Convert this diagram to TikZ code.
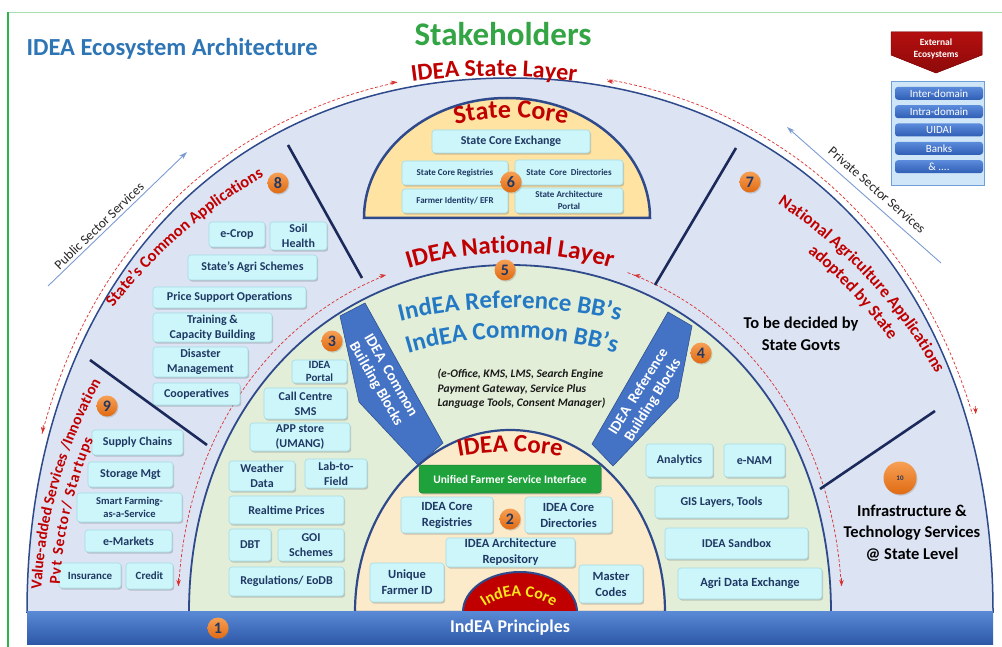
\documentclass[tikz,border=0pt]{standalone}
\usepackage{fontspec}
\setmainfont{Carlito}
\usetikzlibrary{decorations.text,shadows,arrows.meta}
\newcommand{\fsz}[2]{\fontsize{#1}{#2}\selectfont}
\definecolor{stfill}{HTML}{DCE3F3}
\definecolor{natfill}{HTML}{E3EED8}
\definecolor{corefill}{HTML}{FCEBCB}
\definecolor{scfill}{HTML}{FFE3A3}
\definecolor{edge}{HTML}{2E4A8B}
\definecolor{boxfill}{HTML}{CDF6FA}
\definecolor{boxdraw}{HTML}{A3DCE4}
\definecolor{navy}{HTML}{1F3864}
\definecolor{idred}{HTML}{C00000}
\definecolor{bandblue}{HTML}{4472C4}
\definecolor{banddark}{HTML}{2F528F}
\definecolor{orngtop}{HTML}{F7A055}
\definecolor{orngbot}{HTML}{E06A12}
\definecolor{titleblue}{HTML}{2E75B6}
\definecolor{stakegreen}{HTML}{34A544}
\definecolor{ufsigreen}{HTML}{1FA23C}
\definecolor{divider}{HTML}{1B2A5A}
\definecolor{arrowblue}{HTML}{7C9CD2}
\definecolor{bbblue}{HTML}{2479C5}
\definecolor{frame}{HTML}{2DB34A}
\definecolor{framelight}{HTML}{A8DDB0}
\definecolor{extred}{HTML}{B40F0F}
\definecolor{extreddark}{HTML}{8E0A0A}
\definecolor{extboxfill}{HTML}{CFE6F8}
\definecolor{extboxdraw}{HTML}{6E9FD6}
\definecolor{pilltop}{HTML}{5B8BDB}
\definecolor{pillbot}{HTML}{2F5EB5}
\definecolor{bartop}{HTML}{5A8AD6}
\definecolor{barbot}{HTML}{2D58A8}
\definecolor{coreyellow}{HTML}{FFE81A}
\definecolor{dashred}{HTML}{D93030}
\begin{document}
\begin{tikzpicture}[x=1pt,y=1pt,
  box/.style={draw=boxdraw, line width=0.6pt, fill=boxfill, rounded corners=3pt, align=center, inner sep=0pt, text=navy,
    drop shadow={shadow xshift=1.2pt, shadow yshift=-1.6pt, opacity=0.3, fill=black!60}},
  num/.style={circle, minimum size=21pt, inner sep=0pt, top color=orngtop, bottom color=orngbot, text=navy,
    font=\fsz{16}{16}\bfseries, drop shadow={shadow xshift=1pt, shadow yshift=-1.2pt, opacity=0.3}},
  pill/.style={rounded corners=3pt, top color=pilltop, bottom color=pillbot, minimum width=88pt, minimum height=13pt,
    inner sep=0pt, text=white, font=\fsz{11}{11}},
  divline/.style={divider, line width=2.6pt},
  dasharc/.style={dashred, line width=0.7pt, dash pattern=on 3pt off 2pt},
  dashtip/.style={dashred, line width=0.7pt, -{Stealth[length=6pt,width=4.5pt]}},
  sector/.style={arrowblue, line width=0.9pt, -{Stealth[length=8pt,width=5pt]}},
  band/.style={fill=bandblue, draw=banddark, line width=0.6pt},
  bandtext/.style={text=white, font=\fsz{15}{17}\bfseries, align=center},
  plain/.style={text=black, font=\fsz{16.5}{21.5}\bfseries, align=center}
]
\useasboundingbox (0,0) rectangle (1002,-647);
\fill[white] (0,0) rectangle (1002,-647);
\draw[framelight, line width=1pt] (8,-13) -- (1002,-13);
\draw[frame, line width=2.4pt] (8,-12.5) -- (8,-647);

% ---------- State layer ----------
\filldraw[fill=stfill, draw=edge, line width=1.5pt] (27,-612) .. controls (27,-291.6) and (220.2,-78) .. (510,-78)
   .. controls (799.8,-78) and (993,-291.6) .. (993,-612) -- cycle;

% outer dashed arcs
\begin{scope}
 \clip (0,-433) rectangle (397,0);
 \draw[dasharc] (20,-612) .. controls (20,-287.4) and (216,-71) .. (510,-71);
\end{scope}
\begin{scope}
 \clip (607,-413) rectangle (1002,0);
 \draw[dasharc] (510,-71) .. controls (804,-71) and (1000,-287.4) .. (1000,-612);
\end{scope}
\coordinate (oLa) at (390,-83); \coordinate (oLb) at (397,-82);
\coordinate (oLc) at (43.3,-425); \coordinate (oLd) at (42.6,-433);
\coordinate (oRa) at (614,-82); \coordinate (oRb) at (607,-81);
\coordinate (oRc) at (975.2,-406); \coordinate (oRd) at (975.8,-414);
\draw[dashtip] (oLa) -- (oLb);
\draw[dashtip] (oLc) -- (oLd);
\draw[dashtip] (oRa) -- (oRb);
\draw[dashtip] (oRc) -- (oRd);

% ---------- National layer ----------
\filldraw[fill=natfill, draw=edge, line width=1.8pt] (189,-612) .. controls (189,-410.7) and (323.8,-265) .. (510,-265)
   .. controls (696.2,-265) and (831,-410.7) .. (831,-612) -- cycle;
\begin{scope}
 \clip (0,-585) rectangle (385,0);
 \draw[dasharc] (178,-612) .. controls (178,-403.2) and (317.4,-252) .. (510,-252);
\end{scope}
\begin{scope}
 \clip (627,-585) rectangle (1002,0);
 \draw[dasharc] (510,-252) .. controls (702.6,-252) and (842,-403.2) .. (842,-612);
\end{scope}
\coordinate (iLa) at (379,-276.5); \coordinate (iLb) at (386,-275);
\coordinate (iLc) at (178.6,-578); \coordinate (iLd) at (178.4,-586);
\coordinate (iRa) at (641,-276.5); \coordinate (iRb) at (634,-275);
\coordinate (iRc) at (841.4,-578); \coordinate (iRd) at (841.6,-586);
\draw[dashtip] (iLa) -- (iLb);
\draw[dashtip] (iLc) -- (iLd);
\draw[dashtip] (iRa) -- (iRb);
\draw[dashtip] (iRc) -- (iRd);

% building block bands
\filldraw[band] (340,-316) -- (365,-303) -- (443,-443) -- (418,-465) -- (359,-402) -- cycle;
\filldraw[band] (668,-312) -- (692,-326) -- (678,-398) -- (613,-466) -- (592,-444) -- cycle;
\node[bandtext, rotate=-60] (bbl) at (383,-380) {IDEA\ \ Common\\Building Blocks};
\node[bandtext, rotate=58] (bbr) at (646,-396) {IDEA\ \ Reference\\Building Blocks};

% ---------- IDEA core ----------
\filldraw[fill=corefill, draw=edge, line width=2.2pt] (355,-612) arc[start angle=180, end angle=0, x radius=155, y radius=182] -- cycle;
\filldraw[fill=idred, draw=edge, line width=2pt] (463,-612) arc[start angle=180, end angle=0, x radius=57, y radius=40] -- cycle;

% ---------- State core ----------
\filldraw[fill=scfill, draw=edge, line width=2.5pt] (364,-218) arc[start angle=180, end angle=0, x radius=143, y radius=120] -- cycle;

% ---------- bottom bar ----------
\node[top color=bartop, bottom color=barbot, minimum width=966pt, minimum height=33pt, inner sep=0pt] (bar) at (510,-627.5) {};
\node[text=white, font=\fsz{18}{18}\bfseries] (barT) at (510,-628) {IndEA Principles};

% divider lines
\coordinate (d1a) at (288,-145); \coordinate (d1b) at (362,-278);
\coordinate (d2a) at (736,-148); \coordinate (d2b) at (655,-285);
\coordinate (d3a) at (90,-360); \coordinate (d3b) at (207,-445);
\coordinate (d4a) at (935,-411); \coordinate (d4b) at (820,-489);
\draw[divline] (d1a) -- (d1b);
\draw[divline] (d2a) -- (d2b);
\draw[divline] (d3a) -- (d3b);
\draw[divline] (d4a) -- (d4b);

% sector arrows
\coordinate (pubS) at (48,-286); \coordinate (pubE) at (187,-152);
\coordinate (priS) at (941,-263); \coordinate (priE) at (787,-127);
\draw[sector] (pubS) -- (pubE);
\draw[sector] (priS) -- (priE);
\node[rotate=44, font=\fsz{13.5}{14}, text=black!85] (pubT) at (99,-226) {Public Sector Services};
\node[rotate=-41, font=\fsz{13.5}{14}, text=black!85] (priT) at (877,-190) {Private Sector Services};

% ---------- titles ----------
\node[anchor=base west, text=titleblue, font=\fsz{24.5}{25}\bfseries] (title) at (23,-56) {IDEA Ecosystem Architecture};
\node[anchor=base, text=stakegreen, font=\fsz{33}{33}\bfseries] (stake) at (503,-46) {Stakeholders};

% arched headings
\path[decorate, decoration={text along path, text align=center,
  text={|\fsz{24}{24}\bfseries\color{idred}|IDEA State Layer}}, shift={(494,-676)}]
  (102:600) arc[start angle=102, end angle=78, radius=600];
\path[decorate, decoration={text along path, text align=center,
  text={|\fsz{26}{26}\bfseries\color{idred}|State Core}}, shift={(511,-364)}]
  (108:246) arc[start angle=108, end angle=72, radius=246];
\path[decorate, decoration={text along path, text align=center,
  text={|\fsz{25}{25}\bfseries\color{idred}|IDEA National Layer}}, shift={(510,-603)}]
  (114:350) arc[start angle=114, end angle=66, radius=350];
\path[decorate, decoration={text along path, text align=center,
  text={|\fsz{25}{25}\bfseries\color{bbblue}|IndEA Reference BB’s}}, shift={(510,-773)}]
  (108:465) arc[start angle=108, end angle=72, radius=465];
\path[decorate, decoration={text along path, text align=center,
  text={|\fsz{25}{25}\bfseries\color{bbblue}|IndEA Common BB’s}}, shift={(512,-702)}]
  (110:364) arc[start angle=110, end angle=70, radius=364];
\path[decorate, decoration={text along path, text align=center,
  text={|\fsz{25}{25}\bfseries\color{idred}|IDEA Core}}, shift={(510,-722)}]
  (104:270) arc[start angle=104, end angle=76, radius=270];
\path[decorate, decoration={text along path, text align=center,
  text={|\fsz{16}{16}\bfseries\color{coreyellow}|IndEA Core}}, shift={(519,-657)}]
  (150:61) arc[start angle=150, end angle=30, radius=61];

% ---------- State core boxes ----------
\node[box, minimum width=158pt, minimum height=23pt, font=\fsz{12}{14}\bfseries] (sce) at (511,-141.5) {State Core Exchange};
\node[box, minimum width=106pt, minimum height=24pt, font=\fsz{9}{11}\bfseries] (scr) at (455,-173) {State Core Registries};
\node[box, minimum width=108pt, minimum height=25pt, font=\fsz{9}{11}\bfseries] (scd) at (569,-172.5) {State\ \ Core\ \ Directories};
\node[box, minimum width=106pt, minimum height=24pt, font=\fsz{9}{11}\bfseries] (fid) at (455,-201) {Farmer Identity/ EFR};
\node[box, minimum width=108pt, minimum height=25pt, font=\fsz{9}{12}\bfseries] (sap) at (569,-200.5) {State Architecture\\Portal};

% ---------- State common applications ----------
\node[box, minimum width=56pt, minimum height=25pt, font=\fsz{12}{15}\bfseries] (ecrop) at (237,-234.5) {e-Crop};
\node[box, minimum width=57pt, minimum height=28pt, font=\fsz{12}{15}\bfseries] (soil) at (298.5,-236) {Soil\\Health};
\node[box, minimum width=129pt, minimum height=25pt, font=\fsz{12}{15}\bfseries] (sagri) at (252.5,-267.5) {State’s Agri Schemes};
\node[box, minimum width=153pt, minimum height=21pt, font=\fsz{12}{15}\bfseries] (pso) at (229.5,-297.5) {Price Support Operations};
\node[box, minimum width=119pt, minimum height=29pt, font=\fsz{12}{15}\bfseries] (tcb) at (212.5,-327.5) {Training \&\\Capacity Building};
\node[box, minimum width=95pt, minimum height=30pt, font=\fsz{12}{15}\bfseries] (dm) at (200.5,-362) {Disaster\\Management};
\node[box, minimum width=87pt, minimum height=22pt, font=\fsz{12}{15}\bfseries] (coop) at (196.5,-394) {Cooperatives};

% ---------- Value added ----------
\node[box, minimum width=91pt, minimum height=25pt, font=\fsz{12}{15}\bfseries] (supc) at (137.5,-442.5) {Supply Chains};
\node[box, minimum width=85pt, minimum height=25pt, font=\fsz{12}{15}\bfseries] (stor) at (130.5,-474.5) {Storage Mgt};
\node[box, minimum width=105pt, minimum height=29pt, font=\fsz{10.5}{13.5}\bfseries] (smart) at (129.5,-507.5) {Smart Farming-\\as-a-Service};
\node[box, minimum width=87pt, minimum height=22pt, font=\fsz{12}{15}\bfseries] (emk) at (128.5,-541) {e-Markets};
\node[box, minimum width=62pt, minimum height=25pt, font=\fsz{11}{14}\bfseries] (ins) at (90,-575.5) {Insurance};
\node[box, minimum width=47pt, minimum height=26pt, font=\fsz{11}{14}\bfseries] (cred) at (149.5,-576) {Credit};

% side red texts
\path[decorate, decoration={text along path, text align=center,
  text={|\fsz{16.5}{16.5}\bfseries\color{idred}|State’s Common Applications}}, shift={(510,-612)}]
  (150:500) arc[start angle=150, end angle=112, radius=500];
\path[decorate, decoration={text along path, text align=center,
  text={|\fsz{17}{17}\bfseries\color{idred}|National Agriculture Applications}}, shift={(510,-612)}]
  (72:488) arc[start angle=72, end angle=14, radius=488];
\path[decorate, decoration={text along path, text align=center,
  text={|\fsz{17}{17}\bfseries\color{idred}|adopted by State}}, shift={(510,-612)}]
  (72:467) arc[start angle=72, end angle=14, radius=467];
\path[decorate, decoration={text along path, text align=center,
  text={|\fsz{15.5}{15.5}\bfseries\color{idred}|Value-added Services /Innovation}}, shift={(510,-612)}]
  (190:469) arc[start angle=190, end angle=138, radius=469];
\path[decorate, decoration={text along path, text align=fit to path,
  text={|\fsz{15.5}{15.5}\bfseries\color{idred}|Pvt Sector/ Startups}}, shift={(510,-612)}]
  (176.5:451) arc[start angle=176.5, end angle=157.5, radius=451];

% ---------- National left ----------
\node[box, minimum width=55pt, minimum height=23pt, font=\fsz{11}{13}\bfseries] (iportal) at (319.5,-371.5) {IDEA\\Portal};
\node[box, minimum width=83pt, minimum height=31pt, font=\fsz{12}{15}\bfseries] (ccs) at (305.5,-403.5) {Call Centre\\SMS};
\node[box, minimum width=100pt, minimum height=28pt, font=\fsz{12}{15}\bfseries] (apps) at (300,-437) {APP store\\(UMANG)};
\node[box, minimum width=66pt, minimum height=30pt, font=\fsz{12}{15}\bfseries] (wd) at (262,-476) {Weather\\Data};
\node[box, minimum width=62pt, minimum height=29pt, font=\fsz{12}{15}\bfseries] (ltf) at (336,-473.5) {Lab-to-\\Field};
\node[box, minimum width=115pt, minimum height=28pt, font=\fsz{12}{15}\bfseries] (rtp) at (286.5,-510) {Realtime Prices};
\node[box, minimum width=42pt, minimum height=32pt, font=\fsz{12}{15}\bfseries] (dbt) at (250,-545) {DBT};
\node[box, minimum width=66pt, minimum height=32pt, font=\fsz{12}{15}\bfseries] (goi) at (311,-545) {GOI\\Schemes};
\node[box, minimum width=115pt, minimum height=29pt, font=\fsz{12}{15}\bfseries] (reg) at (286.5,-581.5) {Regulations/ EoDB};

% ---------- Core boxes ----------
\node[draw=ufsigreen!80!black, line width=0.5pt, fill=ufsigreen, rounded corners=3pt, minimum width=182pt, minimum height=28pt, inner sep=0pt,
  text=white, font=\fsz{11.5}{13}\bfseries, drop shadow={shadow xshift=1.2pt, shadow yshift=-1.6pt, opacity=0.3}] (ufsi) at (510,-479) {Unified Farmer Service Interface};
\node[box, minimum width=92pt, minimum height=36pt, font=\fsz{12.5}{16}\bfseries] (icr) at (447,-515) {IDEA Core\\Registries};
\node[box, minimum width=87pt, minimum height=36pt, font=\fsz{12.5}{16}\bfseries] (icd) at (568.5,-515) {IDEA Core\\Directories};
\node[box, minimum width=129pt, minimum height=29pt, font=\fsz{12.5}{16}\bfseries] (iar) at (510.5,-552.5) {IDEA Architecture\\Repository};
\node[box, minimum width=74pt, minimum height=39pt, font=\fsz{12.5}{16}\bfseries] (ufid) at (407,-582.5) {Unique\\Farmer ID};
\node[box, minimum width=64pt, minimum height=38pt, font=\fsz{12.5}{16}\bfseries] (mc) at (611,-584) {Master\\Codes};

% ---------- National right ----------
\node[box, minimum width=67pt, minimum height=33pt, font=\fsz{12}{15}\bfseries] (ana) at (679.5,-460.5) {Analytics};
\node[box, minimum width=61pt, minimum height=33pt, font=\fsz{12}{15}\bfseries] (enam) at (754.5,-460.5) {e-NAM};
\node[box, minimum width=133pt, minimum height=32pt, font=\fsz{12}{15}\bfseries] (gis) at (721.5,-502) {GIS Layers, Tools};
\node[box, minimum width=143pt, minimum height=31pt, font=\fsz{12}{15}\bfseries] (sand) at (736.5,-543.5) {IDEA Sandbox};
\node[box, minimum width=144pt, minimum height=31pt, font=\fsz{12.5}{15}\bfseries] (ade) at (750,-583.5) {Agri Data Exchange};

% ---------- free texts ----------
\node[anchor=west, align=left, text=black!90, font=\fsz{11.5}{14.5}\bfseries\itshape] (bblist) at (434,-389)
  {(e-Office, KMS, LMS, Search Engine\\Payment Gateway, Service Plus\\Language Tools, Consent Manager)};
\node[plain] (tbd) at (801,-334) {To be decided by\\State Govts};
\node[plain] (infra) at (912,-533) {Infrastructure \&\\Technology Services\\@ State Level};

% ---------- External ecosystems ----------
\filldraw[top color=extred, bottom color=extreddark, draw=extreddark, line width=0.5pt]
  (891,-32) -- (982,-32) -- (982,-55) -- (936,-73) -- (891,-55) -- cycle;
\node[text=white, font=\fsz{9.5}{12}\bfseries, align=center] (extT) at (936,-49) {External\\Ecosystems};
\node[draw=extboxdraw, line width=0.8pt, fill=extboxfill, minimum width=93pt, minimum height=104pt, inner sep=0pt] (extbox) at (937.5,-133) {};
\node[pill] (p1) at (939,-93.3) {Inter-domain};
\node[pill] (p2) at (939,-111.7) {Intra-domain};
\node[pill] (p3) at (939,-130) {UIDAI};
\node[pill] (p4) at (939,-148.3) {Banks};
\node[pill] (p5) at (939,-166.7) {\& ....};

% ---------- numbered circles ----------
\node[num] (n1) at (218,-628) {1};
\node[num] (n2) at (510,-519) {2};
\node[num] (n3) at (332,-341) {3};
\node[num] (n4) at (701,-353) {4};
\node[num] (n5) at (505,-270) {5};
\node[num] (n6) at (511,-182) {6};
\node[num] (n7) at (750,-182) {7};
\node[num] (n8) at (278,-183) {8};
\node[num] (n9) at (107,-406) {9};
\node[num, minimum size=33pt, font=\fsz{7}{7}\bfseries] (n10) at (900,-478) {10};
\end{tikzpicture}
\end{document}
